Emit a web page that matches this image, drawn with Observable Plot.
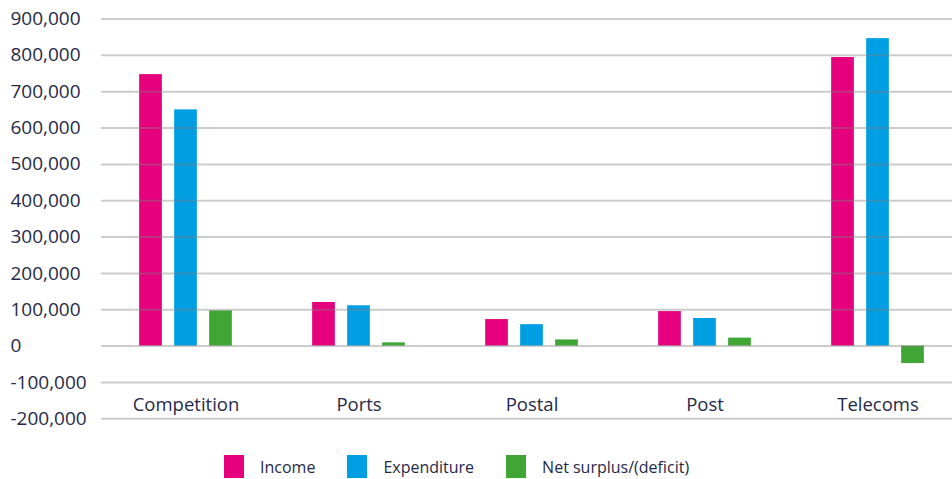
<!DOCTYPE html>
<html>
<head>
<meta charset="utf-8">
<script src="https://cdn.jsdelivr.net/npm/d3@7"></script>
<script src="https://cdn.jsdelivr.net/npm/@observablehq/plot@0.6"></script>
<style>
  html, body { margin: 0; padding: 0; background: #fff; overflow: hidden; }
  #chart { width: 952px; height: 479px; position: relative; font-family: "Open Sans", sans-serif; }
  .legend { display: flex; align-items: center; height: 39px; margin-top: 7px; padding-left: 224px; color: #262a48; font-size: 16px; font-family: "Open Sans", sans-serif; }
  .legend .item { display: flex; align-items: center; margin-right: 32px; }
  .legend .sw { width: 20px; height: 23px; margin-right: 16px; }
</style>
</head>
<body>
<div id="chart"></div>
<script>
const categories = ["Competition", "Ports", "Postal", "Post", "Telecoms"];
const income = [747000, 120000, 73000, 95000, 794000];
const expenditure = [650000, 111000, 59000, 76000, 846000];
const netSurplus = [97000, 9000, 17000, 22000, -48000];
const seriesNames = ["Income", "Expenditure", "Net surplus/(deficit)"];
const seriesColors = ["#e6007e", "#009fe3", "#3fa535"];
const yTicks = [-200000, -100000, 0, 100000, 200000, 300000, 400000, 500000, 600000, 700000, 800000, 900000];

const seriesValues = [income, expenditure, netSurplus];
const rows = categories.flatMap((c, i) =>
  seriesNames.map((s, k) => ({ category: c, series: s, value: seriesValues[k][i] }))
);

const textColor = "#262a48";
const barW = 23, barStep = 35;
const bandStep = (965 - 98.5) / categories.length;
const inset = (bandStep - barW) / 2;

const plot = Plot.plot({
  width: 952,
  height: 440,
  marginLeft: 101,
  marginRight: 0,
  marginTop: 18.5,
  marginBottom: 21.7,
  style: { fontFamily: "Open Sans, sans-serif", fontSize: "18px", color: textColor, background: "transparent", overflow: "hidden" },
  x: { domain: categories, range: [98.5, 965], padding: 0, label: null },
  y: { domain: [-200000, 900000], label: null },
  marks: [
    ...seriesNames.map((s, k) =>
      Plot.barY(rows.filter(d => d.series === s), {
        x: "category", y: "value", fill: seriesColors[k],
        dx: (k - 1) * barStep, insetLeft: inset, insetRight: inset
      })
    ),
    Plot.gridY(yTicks, { stroke: "#808080", strokeOpacity: 0.4, strokeWidth: 2 }),
    Plot.axisY(yTicks, {
      tickSize: 0, tickPadding: 0, textAnchor: "start", dx: -91,
      tickFormat: d => d.toLocaleString("en-US"), fontSize: 19, fill: textColor, label: null
    }),
    Plot.axisX({ tickSize: 0, fontSize: 18.5, fill: textColor, dy: -30, label: null })
  ]
});

const root = document.getElementById("chart");
root.appendChild(plot);
const legend = document.createElement("div");
legend.className = "legend";
seriesNames.forEach((s, k) => {
  const item = document.createElement("div");
  item.className = "item";
  const sw = document.createElement("span");
  sw.className = "sw";
  sw.style.background = seriesColors[k];
  const label = document.createElement("span");
  label.textContent = s;
  item.appendChild(sw);
  item.appendChild(label);
  legend.appendChild(item);
});
root.appendChild(legend);
</script>
</body>
</html>
